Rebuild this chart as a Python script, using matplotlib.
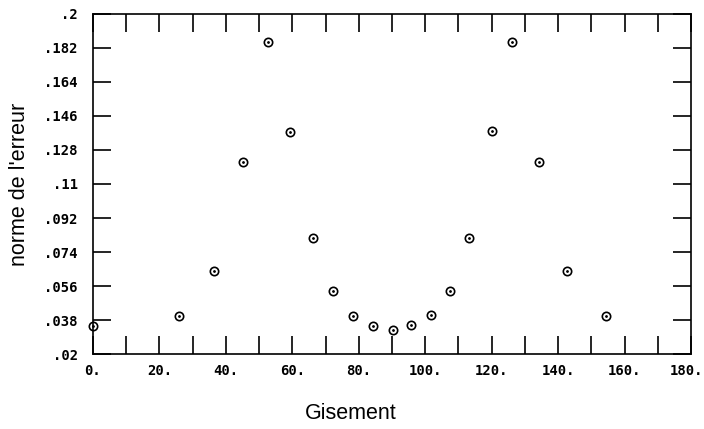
import numpy as np
import matplotlib
matplotlib.use("Agg")
import matplotlib.pyplot as plt
import matplotlib.transforms as mtransforms

# Values
gisement = [0, 25.9, 36.4, 45.2, 52.7, 59.3, 66.2, 72.2, 78.3, 84.3,
            90.3, 95.7, 101.7, 107.5, 113.2, 120.1, 126.1, 134.2, 142.7, 154.4]
erreur = [0.0348, 0.0401, 0.0639, 0.1216, 0.1852, 0.1375, 0.0814, 0.0534, 0.0401, 0.0348,
          0.0327, 0.0354, 0.0406, 0.0534, 0.0814, 0.1380, 0.1852, 0.1216, 0.0639, 0.0401]

xticks = [0, 20, 40, 60, 80, 100, 120, 140, 160, 180]
xticklabels = ['0.', '20.', '40.', '60.', '80.', '100.', '120.', '140.', '160.', '180.']
yticks = [0.02, 0.038, 0.056, 0.074, 0.092, 0.11, 0.128, 0.146, 0.164, 0.182, 0.2]
yticklabels = ['.02', '.038', '.056', '.074', '.092', '.11', '.128', '.146', '.164', '.182', '.2']

fig = plt.figure(figsize=(7.04, 4.29), dpi=100)
ax = fig.add_axes([0.1321, 0.1748, 0.8494, 0.7926])

ax.plot(gisement, erreur, linestyle='none', marker='o', ms=6, mfc='none',
        mec='black', mew=1.2, clip_on=False)
ax.plot(gisement, erreur, linestyle='none', marker='.', ms=2, color='black', clip_on=False)

ax.set_xlim(0, 180)
ax.set_ylim(0.02, 0.2)

tick_font = dict(family='DejaVu Sans Mono', size=10, weight='bold')
ax.set_xticks(xticks)
ax.set_xticklabels(xticklabels, **tick_font)
ax.set_xticks(np.arange(10, 180, 20), minor=True)
ax.set_yticks(yticks)
ax.set_yticklabels(yticklabels, **tick_font)

ax.tick_params(axis='both', which='both', direction='in', length=13, width=1.2,
               top=True, right=True, color='black')
ax.tick_params(axis='x', which='major', pad=7)
ax.tick_params(axis='y', which='major', pad=11)

# keep the last x label inside the figure
last = ax.get_xticklabels()[-1]
last.set_transform(last.get_transform() +
                   mtransforms.ScaledTranslation(-4 / 100, 0, fig.dpi_scale_trans))

for sp in ax.spines.values():
    sp.set_linewidth(1.2)

fig.text(20 / 704, 0.571, "norme de l'erreur", rotation=90, ha='center', va='center',
         family='Liberation Sans', fontsize=15.5)
fig.text(0.4986, 0.035, 'Gisement', ha='center', va='center',
         family='Liberation Sans', fontsize=15.5)

fig.savefig('out.png', dpi=100)
